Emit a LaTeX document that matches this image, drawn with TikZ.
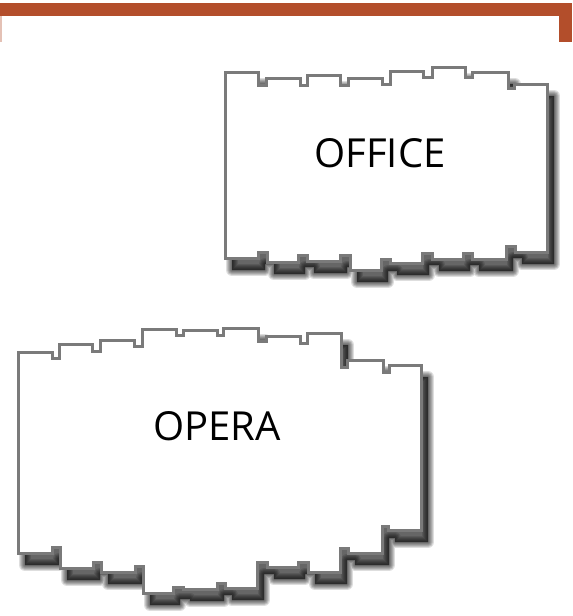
\documentclass[tikz,border=0pt]{standalone}
\usepackage{fontspec}
\setmainfont{Open Sans}
\definecolor{barc}{HTML}{B34E2B}
\definecolor{edgec}{HTML}{7A7A7A}
\newcommand{\officepath}{(225,72) -- (258,72) -- (258,85) -- (266,85) -- (266,78) -- (300,78) -- (300,85) -- (307,85) -- (307,75) -- (340,75) -- (340,85) -- (348,85) -- (348,78) -- (382,78) -- (382,84) -- (390,84) -- (390,71) -- (423,71) -- (423,77) -- (432,77) -- (432,67) -- (465,67) -- (465,77) -- (472,77) -- (472,72) -- (508,72) -- (508,88) -- (514,88) -- (514,84) -- (547,84)
 -- (547,252) -- (515,252) -- (515,246) -- (506,246) -- (506,259) -- (472,259) -- (472,253) -- (463,253) -- (463,259) -- (432,259) -- (432,253) -- (422,253) -- (422,263) -- (390,263) -- (390,259) -- (381,259) -- (381,270) -- (350,270) -- (350,255) -- (340,255) -- (340,261) -- (307,261) -- (307,255) -- (298,255) -- (298,262) -- (267,262) -- (267,252) -- (258,252) -- (258,258) -- (225,258) -- cycle}
\newcommand{\operapath}{(18,352) -- (52,352) -- (52,358) -- (59,358) -- (59,344) -- (92,344) -- (92,351) -- (100,351) -- (100,340) -- (134,340) -- (134,346) -- (142,346) -- (142,329) -- (176,329) -- (176,335) -- (183,335) -- (183,330) -- (217,330) -- (217,335) -- (223,335) -- (223,328) -- (258,328) -- (258,341) -- (266,341) -- (266,336) -- (300,336) -- (300,343) -- (307,343) -- (307,333) -- (341,333) -- (341,367) -- (347,367) -- (347,360) -- (383,360) -- (383,372) -- (389,372) -- (389,365) -- (421,365)
 -- (421,530) -- (388,530) -- (388,526) -- (382,526) -- (382,553) -- (348,553) -- (348,548) -- (340,548) -- (340,572) -- (308,572) -- (308,562) -- (298,562) -- (298,567) -- (267,567) -- (267,562) -- (257,562) -- (257,588) -- (225,588) -- (225,583) -- (217,583) -- (217,589) -- (183,589) -- (183,587) -- (173,587) -- (173,593) -- (143,593) -- (143,566) -- (135,566) -- (135,572) -- (101,572) -- (101,562) -- (93,562) -- (93,568) -- (60,568) -- (60,547) -- (52,547) -- (52,553) -- (18,553) -- cycle}
\tikzset{
  paper/.style={draw=edgec, line width=3pt, fill=white},
  shadowcore/.style={fill=black, opacity=0.6, shift={(7,12)}},
  shadowring/.style={draw=black, opacity=0.13, line join=round, shift={(7,12)}},
  label/.style={font=\fontsize{40}{48}\selectfont, text=black, inner sep=0pt}
}
\begin{document}
\begin{tikzpicture}[x=1pt,y=-1pt]
\useasboundingbox (0,0) rectangle (573,616);
% top bar
\fill[barc] (0,3) rectangle (572,16);
\fill[barc] (559,16) rectangle (572,42);
\draw[barc!35, line width=1.5pt] (0.75,16) -- (0.75,42);
% shadows
\path[shadowcore] \officepath;
\path[shadowcore] \operapath;
\foreach \w in {2,4,6,8,10,12} {
  \path[shadowring, line width=\w pt] \officepath;
  \path[shadowring, line width=\w pt] \operapath;
}
% papers
\path[paper] \officepath;
\path[paper] \operapath;
\node[label] (office) at (380,153) {OFFICE};
\node[label] (opera) at (217,426) {OPERA};
\end{tikzpicture}
\end{document}
